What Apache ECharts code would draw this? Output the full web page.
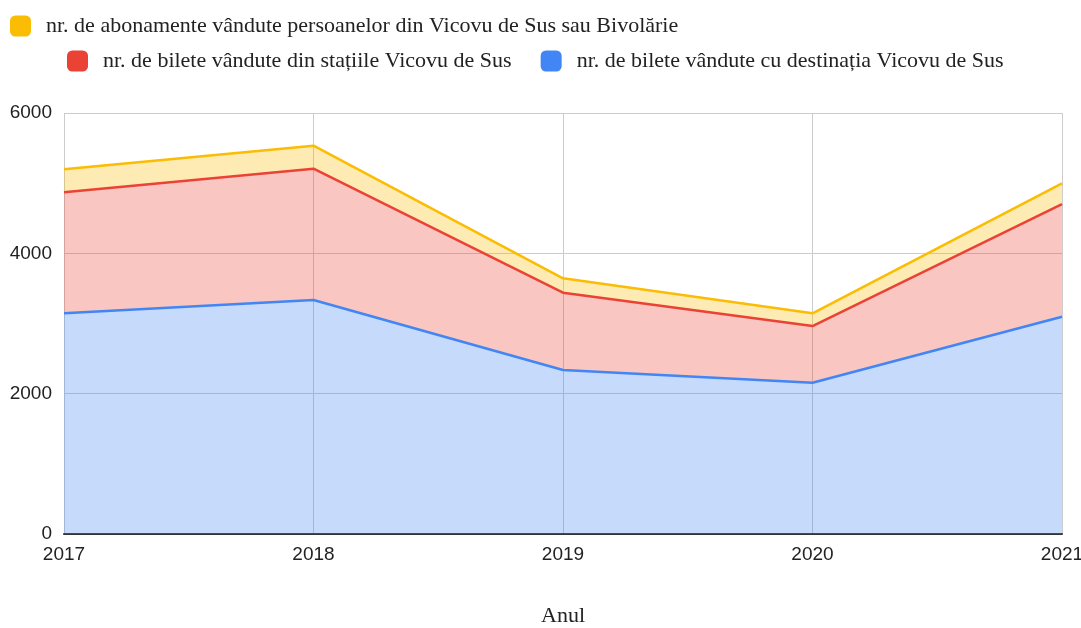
<!DOCTYPE html>
<html>
<head>
<meta charset="utf-8">
<script src="https://cdn.jsdelivr.net/npm/echarts@6/dist/echarts.min.js"></script>
<style>html,body{margin:0;padding:0;background:#fff}#c{width:1081px;height:628px}</style>
</head>
<body>
<div id="c"></div>
<script>
const years = ['2017', '2018', '2019', '2020', '2021'];
const nameBlue = 'nr. de bilete vândute cu destinația Vicovu de Sus';
const nameRed = 'nr. de bilete vândute din stațiile Vicovu de Sus';
const nameYellow = 'nr. de abonamente vândute persoanelor din Vicovu de Sus sau Bivolărie';
const blueValues = [3145, 3335, 2337, 2156, 3097];
const redValues = [1725, 1871, 1102, 808, 1606];
const yellowValues = [327, 328, 205, 181, 295];
const yTicks = [0, 2000, 4000, 6000];

const serif = '"Liberation Serif", "DejaVu Serif", serif';
const sans = '"Liberation Sans", Arial, sans-serif';

function mk(name, data, color) {
  return {
    name: name, type: 'line', stack: 'total', data: data,
    symbol: 'none', smooth: false,
    lineStyle: { color: color, width: 2.5 },
    itemStyle: { color: color },
    areaStyle: { color: color, opacity: 0.3 },
    emphasis: { disabled: true }
  };
}

const legendText = { fontFamily: serif, fontSize: 22, color: '#222', padding: [0, 0, 0, 10] };

const chart = echarts.init(document.getElementById('c'), null, { renderer: 'canvas' });
chart.setOption({
  animation: false,
  backgroundColor: '#fff',
  grid: { left: 64, right: 19, top: 113, bottom: 94, containLabel: false, outerBoundsMode: 'none' },
  legend: [
    {
      data: [nameYellow], left: 10, top: 15, padding: 0,
      icon: 'roundRect', itemWidth: 21, itemHeight: 21,
      textStyle: legendText
    },
    {
      data: [nameRed, nameBlue], left: 67, top: 50, padding: 0, itemGap: 29,
      icon: 'roundRect', itemWidth: 21, itemHeight: 21,
      textStyle: legendText
    }
  ],
  xAxis: {
    type: 'category', data: years, boundaryGap: false,
    name: 'Anul', nameLocation: 'middle', nameGap: 71,
    nameTextStyle: { fontFamily: serif, fontSize: 22, color: '#222' },
    axisLine: { show: true, lineStyle: { color: '#333', width: 2 } },
    axisTick: { show: false },
    axisLabel: { fontFamily: sans, fontSize: 19, color: '#222', margin: 11 },
    splitLine: { show: true, lineStyle: { color: '#ccc', width: 1 } }
  },
  yAxis: {
    type: 'value', min: yTicks[0], max: yTicks[yTicks.length - 1], interval: 2000,
    axisLine: { show: false }, axisTick: { show: false },
    axisLabel: { fontFamily: sans, fontSize: 19, color: '#222', margin: 12, formatter: v => String(v) },
    splitLine: { show: true, lineStyle: { color: '#ccc', width: 1 } }
  },
  series: [
    mk(nameBlue, blueValues, '#4285f4'),
    mk(nameRed, redValues, '#ea4335'),
    mk(nameYellow, yellowValues, '#fbbc04')
  ]
});
</script>
</body>
</html>
